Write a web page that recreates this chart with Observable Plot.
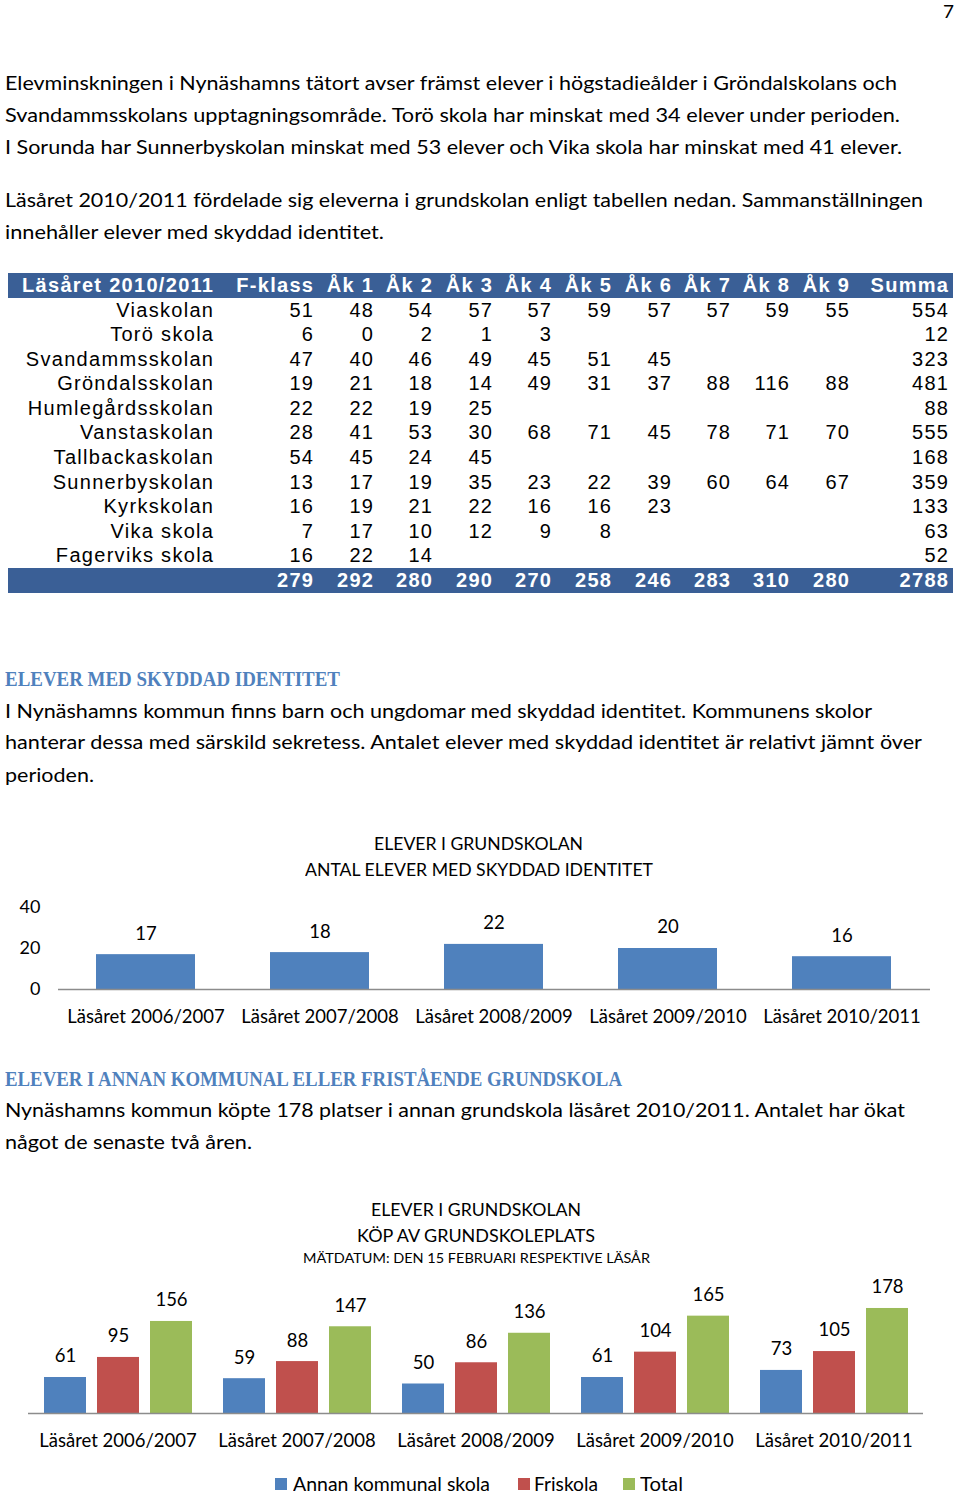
<!DOCTYPE html>
<html>
<head>
<meta charset="utf-8">
<script src="https://cdn.jsdelivr.net/npm/d3@7"></script>
<script src="https://cdn.jsdelivr.net/npm/@observablehq/plot@0.6"></script>
<style>
  html, body { margin: 0; padding: 0; background: #fff; }
  #page { position: relative; width: 960px; height: 1499px; overflow: hidden; font-family: Lato, sans-serif; color: #000; }
  .ln { position: absolute; white-space: nowrap; transform-origin: 0 0; }
  .cell { position: absolute; white-space: nowrap; font-family: "Liberation Sans", Arial, sans-serif; font-size: 20px; letter-spacing: 1.3px; text-align: right; }
  .bar { position: absolute; background: #3a5f96; }
  .chart { position: absolute; left: 0; }
  .sw { position: absolute; width: 12px; height: 12px; }
</style>
</head>
<body>
<div id="page"></div>
<script>
// ---------- DATA ----------
const schools = ["Viaskolan", "Torö skola", "Svandammsskolan", "Gröndalsskolan", "Humlegårdsskolan", "Vanstaskolan", "Tallbackaskolan", "Sunnerbyskolan", "Kyrkskolan", "Vika skola", "Fagerviks skola"];
const grades = ["F-klass", "Åk 1", "Åk 2", "Åk 3", "Åk 4", "Åk 5", "Åk 6", "Åk 7", "Åk 8", "Åk 9"];
const tableTitle = "Läsåret 2010/2011";
const sumLabel = "Summa";
const pupils = [
  [51, 48, 54, 57, 57, 59, 57, 57, 59, 55],
  [6, 0, 2, 1, 3, null, null, null, null, null],
  [47, 40, 46, 49, 45, 51, 45, null, null, null],
  [19, 21, 18, 14, 49, 31, 37, 88, 116, 88],
  [22, 22, 19, 25, null, null, null, null, null, null],
  [28, 41, 53, 30, 68, 71, 45, 78, 71, 70],
  [54, 45, 24, 45, null, null, null, null, null, null],
  [13, 17, 19, 35, 23, 22, 39, 60, 64, 67],
  [16, 19, 21, 22, 16, 16, 23, null, null, null],
  [7, 17, 10, 12, 9, 8, null, null, null, null],
  [16, 22, 14, null, null, null, null, null, null, null]
];
const schoolSums = [554, 12, 323, 481, 88, 555, 168, 359, 133, 63, 52];
const gradeSums = [279, 292, 280, 290, 270, 258, 246, 283, 310, 280];
const grandTotal = 2788;

const years = ["Läsåret 2006/2007", "Läsåret 2007/2008", "Läsåret 2008/2009", "Läsåret 2009/2010", "Läsåret 2010/2011"];
const protectedIds = [17, 18, 22, 20, 16];

const series = ["Annan kommunal skola", "Friskola", "Total"];
const annanKommunal = [61, 59, 50, 61, 73];
const friskola = [95, 88, 86, 104, 105];
const totalKop = [156, 147, 136, 165, 178];

const chart1Title = ["ELEVER I GRUNDSKOLAN", "ANTAL ELEVER MED SKYDDAD IDENTITET"];
const chart2Title = ["ELEVER I GRUNDSKOLAN", "KÖP AV GRUNDSKOLEPLATS", "MÄTDATUM: DEN 15 FEBRUARI RESPEKTIVE LÄSÅR"];

// ---------- LAYOUT HELPERS ----------
const page = document.getElementById("page");
function line(text, x, yc, target, fs, opts = {}) {
  const d = document.createElement("div");
  d.className = "ln";
  d.textContent = text;
  d.style.left = x + "px";
  d.style.fontSize = fs + "px";
  d.style.lineHeight = (fs * 1.2) + "px";
  d.style.top = (yc - fs * 0.66) + "px";
  if (opts.font) d.style.fontFamily = opts.font;
  if (opts.weight) d.style.fontWeight = opts.weight;
  if (opts.color) d.style.color = opts.color;
  page.appendChild(d);
  if (target) {
    const w = d.getBoundingClientRect().width;
    d.style.transform = `scaleX(${target / w})`;
  }
  return d;
}
function centered(text, xc, yc, target, fs, opts) {
  return line(text, xc - target / 2, yc, target, fs, opts);
}

// page number
line("7", 943, 13, 11, 18);

// paragraph texts
const P = 19.5;
line("Elevminskningen i Nynäshamns tätort avser främst elever i högstadieålder i Gröndalskolans och", 5, 84, 892, P);
line("Svandammsskolans upptagningsområde. Torö skola har minskat med 34 elever under perioden.", 5, 116, 895, P);
line("I Sorunda har Sunnerbyskolan minskat med 53 elever och Vika skola har minskat med 41 elever.", 5, 148, 897, P);
line("Läsåret 2010/2011 fördelade sig eleverna i grundskolan enligt tabellen nedan. Sammanställningen", 5, 201, 918, P);
line("innehåller elever med skyddad identitet.", 5, 233, 379, P);

const HC = "#4f81bd";
const HF = "'Liberation Serif', serif";
line("ELEVER MED SKYDDAD IDENTITET", 5, 681, 335, 22, {font: HF, weight: "bold", color: HC});
line("I Nynäshamns kommun finns barn och ungdomar med skyddad identitet. Kommunens skolor", 5, 712, 867, P);
line("hanterar dessa med särskild sekretess. Antalet elever med skyddad identitet är relativt jämnt över", 5, 743, 917, P);
line("perioden.", 5, 776, 89, P);

line("ELEVER I ANNAN KOMMUNAL ELLER FRISTÅENDE GRUNDSKOLA", 5, 1081, 617, 22, {font: HF, weight: "bold", color: HC});
line("Nynäshamns kommun köpte 178 platser i annan grundskola läsåret 2010/2011. Antalet har ökat", 5, 1111, 900, P);
line("något de senaste två åren.", 5, 1143, 247, P);

// ---------- TABLE ----------
const tTop = 273, rowH = 24.58;
const colRight = [213, 313, 373, 432, 492, 551, 611, 671, 730, 789, 849, 948];
function bar(top) {
  const b = document.createElement("div");
  b.className = "bar";
  b.style.left = "8px"; b.style.width = "945px";
  b.style.top = top + "px"; b.style.height = rowH + "px";
  page.appendChild(b);
}
function cell(text, col, row, bold, white) {
  const c = document.createElement("div");
  c.className = "cell";
  c.textContent = text;
  const right = colRight[col];
  c.style.left = (right - 300) + "px";
  c.style.width = "301.3px";
  c.style.top = (tTop + row * rowH) + "px";
  c.style.lineHeight = rowH + "px";
  if (bold) c.style.fontWeight = "bold";
  if (white) c.style.color = "#fff";
  page.appendChild(c);
}
bar(tTop);
bar(tTop + 12 * rowH);
cell(tableTitle, 0, 0, true, true);
grades.forEach((g, j) => cell(g, j + 1, 0, true, true));
cell(sumLabel, 11, 0, true, true);
schools.forEach((s, i) => {
  cell(s, 0, i + 1);
  pupils[i].forEach((v, j) => { if (v != null) cell(String(v), j + 1, i + 1); });
  cell(String(schoolSums[i]), 11, i + 1);
});
gradeSums.forEach((v, j) => cell(String(v), j + 1, 12, true, true));
cell(String(grandTotal), 11, 12, true, true);

// ---------- CHART 1 ----------
centered(chart1Title[0], 478.5, 845, 209, 18);
centered(chart1Title[1], 479, 871, 348, 18);

const data1 = years.map((y, i) => ({year: y, value: protectedIds[i]}));
const c1 = Plot.plot({
  width: 960, height: 139,
  marginLeft: 58, marginRight: 30, marginTop: 17, marginBottom: 40,
  style: {fontFamily: "Lato, sans-serif", fontSize: "18px", color: "#000", background: "transparent", overflow: "visible"},
  x: {domain: years, paddingInner: 0.43, paddingOuter: 0.215},
  y: {domain: [0, 40]},
  marks: [
    Plot.barY(data1, {x: "year", y: "value", fill: "#4f81bd"}),
    Plot.ruleY([0], {stroke: "#8c8c8c", strokeWidth: 1.5}),
    Plot.text(data1, {x: "year", y: "value", text: d => String(d.value), dy: -21, fontSize: 18.5, fill: "#000"}),
    Plot.axisY({ticks: [0, 20, 40], tickSize: 0, tickPadding: 18, fontSize: 18, label: null}),
    Plot.axisX({tickSize: 0, tickPadding: 20, fontSize: 18.5, label: null})
  ]
});
c1.classList.add("chart");
c1.style.top = "890px";
page.appendChild(c1);

// ---------- CHART 2 ----------
centered(chart2Title[0], 476, 1211, 210, 18);
centered(chart2Title[1], 476, 1237, 238, 18);
centered(chart2Title[2], 476.5, 1259, 347, 14);

const colors = ["#4f81bd", "#c0504d", "#9bbb59"];
const seriesValues = [annanKommunal, friskola, totalKop];
const data2 = years.flatMap((y, i) => series.map((s, k) => ({year: y, series: s, value: seriesValues[k][i]})));
const c2 = Plot.plot({
  width: 960, height: 188,
  marginLeft: 27, marginRight: 35.5, marginTop: 25, marginBottom: 45,
  style: {fontFamily: "Lato, sans-serif", fontSize: "18px", color: "#000", background: "transparent", overflow: "visible"},
  fx: {domain: years, paddingInner: 0, paddingOuter: 0},
  x: {domain: series, paddingInner: 0.215, paddingOuter: 0.285, axis: null},
  y: {domain: [0, 200], axis: null},
  color: {domain: series, range: colors},
  marks: [
    Plot.barY(data2, {fx: "year", x: "series", y: "value", fill: "series"}),
    Plot.ruleY([0], {stroke: "#8c8c8c", strokeWidth: 1.5}),
    Plot.text(data2, {fx: "year", x: "series", y: "value", text: d => String(d.value), dy: -21, fontSize: 18.5, fill: "#000"}),
    Plot.axisFx({anchor: "bottom", tickSize: 0, tickPadding: 20, fontSize: 18.5, label: null})
  ]
});
c2.classList.add("chart");
c2.style.top = "1270px";
page.appendChild(c2);

// legend
const legendX = [[275, 293, 197], [518, 534, 64], [623, 640, 43]];
series.forEach((s, k) => {
  const sq = document.createElement("div");
  sq.className = "sw";
  sq.style.background = colors[k];
  sq.style.left = legendX[k][0] + "px";
  sq.style.top = "1478px";
  page.appendChild(sq);
  line(s, legendX[k][1], 1485, legendX[k][2], 18.5);
});
</script>
</body>
</html>
